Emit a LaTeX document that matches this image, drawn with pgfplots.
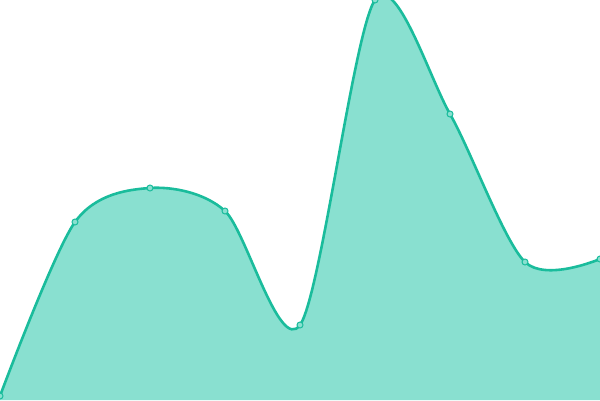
\documentclass[border=0pt]{standalone}
\usepackage{pgfplots}
\pgfplotsset{compat=1.18}
\definecolor{lineC}{HTML}{1ABC9C}
\definecolor{fillC}{HTML}{89E0D0}
\begin{document}
\begin{tikzpicture}
\begin{axis}[
  scale only axis, width=600pt, height=400pt,
  xmin=0, xmax=600, ymin=0, ymax=400,
  hide axis, clip=true,
]
\addplot[draw=none, fill=fillC, smooth, tension=0.5] coordinates {
(0,4) (75,178) (150,212) (225,189) (300,75) (375,400) (450,286) (525,138) (600,141)
} \closedcycle;
\addplot[lineC, line width=2.6pt, smooth, tension=0.5,
  mark=*, mark size=3pt, mark options={fill=fillC, draw=lineC, line width=1pt}] coordinates {
(0,4) (75,178) (150,212) (225,189) (300,75) (375,400) (450,286) (525,138) (600,141)
};
\end{axis}
\pgfresetboundingbox
\useasboundingbox (0,0) rectangle (600pt,400pt);
\end{tikzpicture}
\end{document}
